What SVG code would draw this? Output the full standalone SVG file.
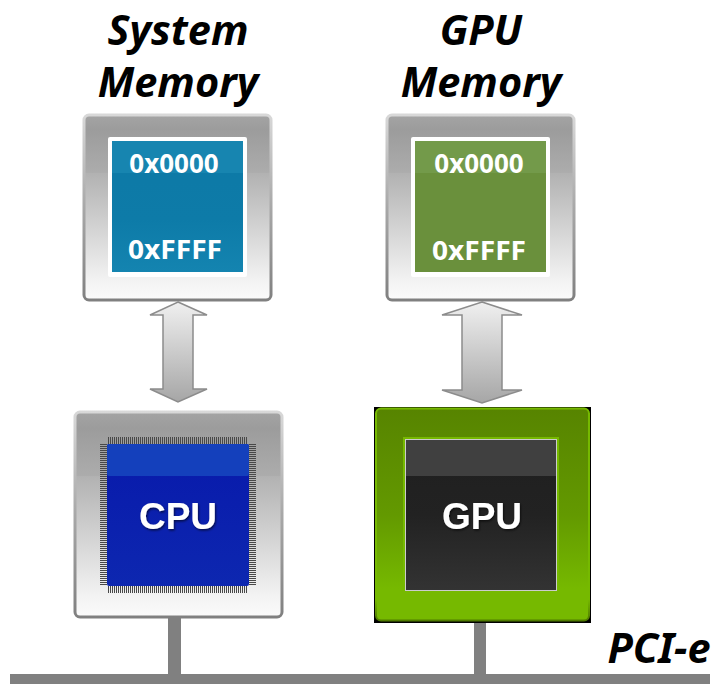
<svg xmlns="http://www.w3.org/2000/svg" width="713" height="684" viewBox="0 0 713 684">
<style>
.title{font:italic bold 41.500px "Noto Sans","Open Sans",sans-serif;fill:#000;text-anchor:middle}
.addr{font:bold 26px "Noto Sans","Liberation Sans",sans-serif;fill:#fff;text-anchor:middle}
.chip{font:bold 37px "Liberation Sans",sans-serif;fill:#fff;text-anchor:middle;filter:url(#ts)}
.panel{fill:url(#gPanel);stroke:url(#gEdge);stroke-width:3}
.arrow{fill:url(#gArrow);stroke:#8c8c8c;stroke-width:1.5}
.bus{fill:#808080}
.pins{stroke:#484848;stroke-width:7;stroke-dasharray:1 1;fill:none}
</style>
<defs>
<linearGradient id="gPanel" x1="0" y1="0" x2="0" y2="1">
<stop offset="0" stop-color="#a4a4a4"/><stop offset=".08" stop-color="#9c9c9c"/><stop offset=".31" stop-color="#acacac"/><stop offset=".315" stop-color="#b2b2b2"/><stop offset=".9" stop-color="#f3f3f3"/><stop offset="1" stop-color="#fbfbfb"/>
</linearGradient>
<linearGradient id="gEdge" x1="0" y1="0" x2="0" y2="1">
<stop offset="0" stop-color="#d8d8d8"/><stop offset=".5" stop-color="#a8a8a8"/><stop offset="1" stop-color="#808080"/>
</linearGradient>
<linearGradient id="gArrow" x1="0" y1="0" x2="0" y2="1">
<stop offset="0" stop-color="#f0f0f0"/><stop offset="1" stop-color="#a6a6a6"/>
</linearGradient>
<linearGradient id="gGreen" x1="0" y1="0" x2="0" y2="1">
<stop offset="0" stop-color="#578400"/><stop offset=".5" stop-color="#639900"/><stop offset=".85" stop-color="#76b900"/><stop offset="1" stop-color="#76b900"/>
</linearGradient>
<linearGradient id="gGreenEdge" x1="0" y1="0" x2="0" y2="1">
<stop offset="0" stop-color="#76b900"/><stop offset=".9" stop-color="#76b900"/><stop offset="1" stop-color="#4f7a00"/>
</linearGradient>
<linearGradient id="gDark" x1="0" y1="0" x2="0" y2="1">
<stop offset="0" stop-color="#1f1f1f"/><stop offset=".5" stop-color="#222"/><stop offset="1" stop-color="#333"/>
</linearGradient>
<linearGradient id="gBlue" x1="0" y1="0" x2="0" y2="1">
<stop offset="0" stop-color="#0819ab"/><stop offset="1" stop-color="#0d27b0"/>
</linearGradient>
<linearGradient id="gTeal" x1="0" y1="0" x2="0" y2="1">
<stop offset="0" stop-color="#0d79a6"/><stop offset=".6" stop-color="#0d7ba8"/><stop offset="1" stop-color="#1484b0"/>
</linearGradient>
<filter id="ts" x="-10%" y="-10%" width="125%" height="130%"><feDropShadow dx="1" dy="1.5" stdDeviation="1" flood-color="#000" flood-opacity=".6"/></filter>
</defs>

<g id="connectors">
<rect class="bus" x="168" y="618" width="13" height="58"/>
<rect class="bus" x="474" y="621" width="12" height="55"/>
<rect class="bus" x="10" y="674" width="700" height="10"/>
<path class="arrow" d="M178 302L207 315H193V389H207L178 402L150 389H163V315H150Z"/>
<path class="arrow" d="M482 302L522 315H502V390H522L482 403L442 390H462V315H442Z"/>
</g>

<g id="title-system">
<text class="title" x="178" y="45">System</text>
<text class="title" x="178" y="97">Memory</text>
</g>
<g id="title-gpu">
<text class="title" x="481" y="45">GPU</text>
<text class="title" x="481" y="97">Memory</text>
</g>

<g id="system-memory">
<rect class="panel" x="84" y="115" width="187" height="185" rx="5"/>
<rect x="108" y="137" width="139" height="140" rx="2" fill="#fff"/>
<rect x="112" y="141" width="131" height="131" fill="url(#gTeal)"/>
<rect x="112" y="141" width="131" height="32" fill="#1785b0"/>
<text class="addr" x="174" y="173">0x0000</text>
<text class="addr" x="175" y="259" textLength="94" lengthAdjust="spacingAndGlyphs">0xFFFF</text>
</g>

<g id="gpu-memory">
<rect class="panel" x="387" y="115" width="187" height="185" rx="5"/>
<rect x="411" y="137" width="139" height="140" rx="2" fill="#fff"/>
<rect x="415" y="141" width="131" height="131" fill="#6a903c"/>
<rect x="415" y="141" width="131" height="32" fill="#739a4a"/>
<text class="addr" x="479" y="173">0x0000</text>
<text class="addr" x="479" y="260" textLength="94" lengthAdjust="spacingAndGlyphs">0xFFFF</text>
</g>

<g id="cpu">
<rect class="panel" x="75" y="412" width="207" height="205" rx="5"/>
<path class="pins" d="M108 440.500H248M108 589.500H248M103.500 444V586M252.500 444V586"/>
<rect x="107" y="444" width="142" height="142" rx="2" fill="url(#gBlue)"/>
<rect x="107" y="444" width="142" height="32" rx="2" fill="#1440bc"/>
<text class="chip" x="178" y="529">CPU</text>
</g>

<g id="gpu">
<rect x="374" y="407" width="217" height="216" fill="#000"/>
<rect x="376" y="408.500" width="213" height="212" rx="5" fill="url(#gGreen)" stroke="url(#gGreenEdge)" stroke-width="2"/>
<rect x="403" y="437" width="156" height="156" fill="#76b900"/>
<rect x="405.500" y="439.500" width="151" height="151" fill="url(#gDark)" stroke="#ccc" stroke-width="1"/>
<rect x="406" y="440" width="150" height="36" fill="#404040"/>
<text class="chip" x="482" y="529">GPU</text>
</g>

<g id="label-pcie">
<text class="title" x="659" y="663">PCI-e</text>
</g>
</svg>
